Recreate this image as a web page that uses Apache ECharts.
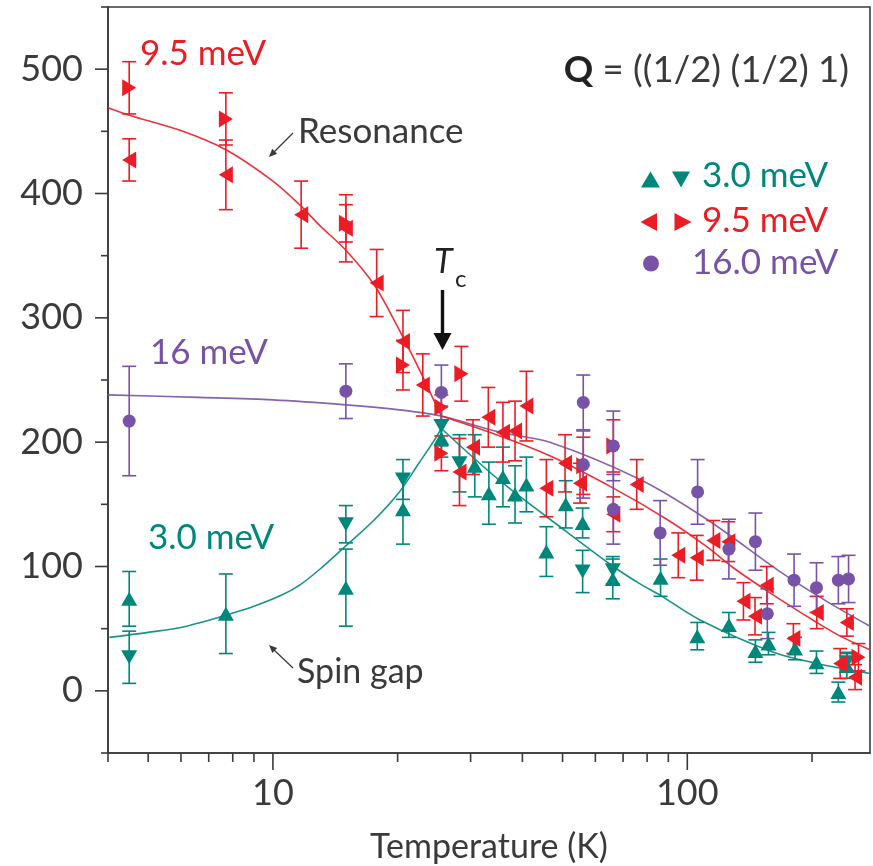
<!DOCTYPE html>
<html>
<head>
<meta charset="utf-8">
<script src="https://cdn.jsdelivr.net/npm/echarts@6/dist/echarts.min.js"></script>
<style>
  html, body { margin: 0; padding: 0; background: #fff; }
  #chart { width: 873px; height: 866px; }
</style>
</head>
<body>
<div id="chart"></div>
<script>
// Each point: [temperature (K), intensity, error]
const tealUp = [
  [4.5, 74, 22], [7.7, 62, 32], [15.0, 83, 31], [20.6, 146, 28], [25.5, 203, 15],
  [30.7, 181, 25], [33.2, 159, 25], [35.9, 172, 24], [38.4, 158, 23], [40.9, 166, 22],
  [45.7, 112, 20], [50.9, 150, 19], [55.9, 135, 12], [66.1, 90, 16], [86.2, 91, 15],
  [105.7, 44, 11], [126, 53, 10], [146, 32, 9], [157, 38, 9], [182, 34, 9],
  [205, 23, 9], [231.5, -1, 8], [242.7, 20, 10]
];
const tealDown = [
  [4.5, 27, 21], [15.0, 134, 15], [20.6, 170, 16], [25.5, 213, 16], [28.2, 183, 23],
  [55.9, 96, 17], [66.1, 97, 11], [242.7, 23, 8]
];
const redLeft = [
  [4.5, 427, 17], [7.7, 415, 28], [11.7, 383, 27], [15.0, 372, 27], [17.8, 328, 27],
  [20.6, 281, 25], [23.0, 246, 25], [28.2, 176, 27], [30.4, 196, 22], [33.1, 220, 24],
  [35.9, 208, 24], [38.4, 209, 24], [40.9, 229, 28], [45.7, 163, 23], [50.7, 183, 23],
  [55.1, 167, 16], [66.3, 142, 14], [75.5, 166, 20], [95.1, 109, 18], [105.4, 107, 18],
  [115.6, 121, 16], [125.6, 120, 16], [136.6, 72, 15], [145.7, 60, 15], [155.5, 85, 15],
  [180.3, 42, 12], [205.3, 63, 13], [233.8, 22, 12], [242.7, 55, 11], [254, 11, 10]
];
const redRight = [
  [4.5, 485, 21], [7.7, 460, 21], [15.0, 376, 15], [20.6, 262, 20], [25.5, 228, 10],
  [25.5, 191, 14], [28.5, 255, 22], [56.1, 181, 23], [66.3, 197, 21], [258.9, 27, 11]
];
const purpleDots = [
  [4.5, 217, 44], [15.0, 241, 22], [25.5, 240, 22], [56.1, 232, 22], [56.1, 182, 27],
  [66.3, 197, 28], [66.3, 146, 28], [86.0, 127, 26], [105.9, 160, 26], [126, 114, 24],
  [146, 120, 23], [156, 62, 20], [181, 89, 21], [205, 83, 20], [231.5, 89, 19], [245, 90, 19]
];

// Fitted curves, [temperature (K), intensity]
const redFitBelowTc = [
  [4.0, 469], [4.5, 463], [5.95, 451], [7.72, 435], [10, 410], [11.6, 391], [13.0, 374],
  [15.04, 354], [17.6, 326], [20.2, 290], [22.6, 258], [24.35, 235], [25.5, 221]
];
const redFitAboveTc = [
  [25.5, 221], [35.3, 205], [46.6, 189], [66.3, 163], [89.2, 138], [111.4, 116],
  [129.1, 99], [161.4, 77], [205.4, 55], [233.8, 44], [276, 33]
];
const purpleFit = [
  [4.0, 238], [6.6, 236], [10, 234], [15.0, 230], [20.2, 226], [25.5, 221], [35.3, 208],
  [46.6, 200], [76.9, 170], [111.4, 138], [170.6, 94], [217, 72], [276, 52]
];
const tealFitBelowTc = [
  [4.03, 43], [5.0, 47], [6.0, 51], [7.72, 61], [9.0, 68], [10.5, 77], [11.6, 85],
  [13.0, 98], [15.04, 117], [17.5, 137], [20.2, 160], [22.5, 183], [24.35, 200], [25.5, 211]
];
const tealFitAboveTc = [
  [25.5, 211], [35.3, 169], [51.1, 128], [66.3, 100], [76.9, 86], [85.9, 77],
  [107.3, 57], [161.4, 31], [205.4, 22], [276, 14]
];

// Axes
const xMin = 4, xMax = 276;
const yMin = -50, yMax = 550;
const xMajorTicks = [10, 100];
const xMinorTicks = [4, 5, 6, 7, 8, 9, 20, 30, 40, 50, 60, 70, 80, 90, 200];
const yTickLabels = [0, 100, 200, 300, 400, 500];
const yTicks = [-50, 0, 50, 100, 150, 200, 250, 300, 350, 400, 450, 500, 550];

const TEAL = '#00877b', RED = '#ec1c24', PURPLE = '#7852a6', INK = '#3a3a3a';
const FONT = 'Lato';

function errorBars(name, data, color) {
  return {
    type: 'custom', name, data, silent: true, clip: false, z: 3,
    encode: { x: 0, y: 1 },
    renderItem: (params, api) => {
      const t = api.value(0), v = api.value(1), e = api.value(2);
      const top = api.coord([t, v + e]);
      const bot = api.coord([t, v - e]);
      const cap = 7;
      const style = { stroke: color, lineWidth: 1.6 };
      return {
        type: 'group',
        children: [
          { type: 'line', shape: { x1: top[0], y1: top[1], x2: bot[0], y2: bot[1] }, style },
          { type: 'line', shape: { x1: top[0] - cap, y1: top[1], x2: top[0] + cap, y2: top[1] }, style },
          { type: 'line', shape: { x1: bot[0] - cap, y1: bot[1], x2: bot[0] + cap, y2: bot[1] }, style }
        ]
      };
    }
  };
}

function markers(name, data, color, symbol, rotate, size) {
  return {
    type: 'scatter', name, data: data.map(d => [d[0], d[1]]), symbol, symbolRotate: rotate,
    symbolSize: size, itemStyle: { color, opacity: 1 }, z: 4, silent: true
  };
}

function fit(name, data, color) {
  return {
    type: 'line', name, data, smooth: 0.3, showSymbol: false, silent: true, z: 2,
    lineStyle: { color, width: 1.6, opacity: 0.9 }
  };
}

// Axis tick marks: minor and major lengths differ
const tickSeriesX = {
  type: 'custom', silent: true, clip: false, z: 5,
  data: xMinorTicks.map(t => [t, 9]).concat(xMajorTicks.map(t => [t, 17])),
  encode: { x: 0 },
  renderItem: (params, api) => {
    const p = api.coord([api.value(0), yMin]);
    return { type: 'line', shape: { x1: p[0], y1: p[1], x2: p[0], y2: p[1] + api.value(1) },
             style: { stroke: INK, lineWidth: 1.6 } };
  }
};
const tickSeriesY = {
  type: 'custom', silent: true, clip: false, z: 5,
  data: yTicks.map(v => [xMin, v, yTickLabels.includes(v) ? 13 : 7]),
  encode: { x: 0, y: 1 },
  renderItem: (params, api) => {
    const p = api.coord([xMin, api.value(1)]);
    return { type: 'line', shape: { x1: p[0] - api.value(2), y1: p[1], x2: p[0], y2: p[1] },
             style: { stroke: INK, lineWidth: 1.6 } };
  }
};

function arrowHead(tip, from, len, half, color) {
  const dx = tip[0] - from[0], dy = tip[1] - from[1];
  const d = Math.hypot(dx, dy), ux = dx / d, uy = dy / d;
  const bx = tip[0] - ux * len, by = tip[1] - uy * len;
  return { type: 'polygon', shape: { points: [tip, [bx - uy * half, by + ux * half], [bx + uy * half, by - ux * half]] },
           style: { fill: color } };
}
function txt(x, y, text, color, size, extra) {
  return { type: 'text', x, y, style: Object.assign({ text, fill: color, font: `${size}px ${FONT}`,
           verticalAlign: 'middle', align: 'left' }, extra || {}) };
}

const graphics = [
  txt(140, 54, '9.5 meV', RED, 35),
  txt(298, 132, 'Resonance', INK, 35),
  { type: 'line', shape: { x1: 293, y1: 133, x2: 273, y2: 153 }, style: { stroke: INK, lineWidth: 1.3 } },
  arrowHead([269, 157], [293, 133], 8, 3.5, INK),
  txt(150, 353, '16 meV', PURPLE, 35),
  txt(148, 538, '3.0 meV', TEAL, 35),
  txt(297, 672, 'Spin gap', INK, 34),
  { type: 'line', shape: { x1: 293, y1: 668, x2: 273, y2: 649 }, style: { stroke: INK, lineWidth: 1.3 } },
  arrowHead([269, 645], [293, 668], 8, 3.5, INK),
  { type: 'text', x: 849, y: 70, style: { text: '{b|Q} = ((1/2) (1/2) 1)', fill: INK, font: `36.5px ${FONT}`,
    align: 'right', verticalAlign: 'middle', rich: { b: { fontWeight: 'bold', fontSize: 36.5, fontFamily: FONT, fill: '#222' } } } },
  txt(434, 262, 'T', '#222', 34, { font: `italic 34px ${FONT}` }),
  txt(455, 279, 'c', '#222', 24),
  { type: 'line', shape: { x1: 442.5, y1: 290, x2: 442.5, y2: 336 }, style: { stroke: '#111', lineWidth: 3.4 } },
  { type: 'polygon', shape: { points: [[433.5, 333], [451.5, 333], [442.5, 350]] }, style: { fill: '#111' } },
  // key
  { type: 'polygon', shape: { points: [[650.5, 171.5], [660, 187.5], [641, 187.5]] }, style: { fill: TEAL } },
  { type: 'polygon', shape: { points: [[672, 171.5], [690, 171.5], [681, 187.5]] }, style: { fill: TEAL } },
  txt(702, 176, '3.0 meV', TEAL, 35),
  { type: 'polygon', shape: { points: [[640.5, 222], [657, 213], [657, 231]] }, style: { fill: RED } },
  { type: 'polygon', shape: { points: [[674.5, 213], [691.5, 222], [674.5, 231]] }, style: { fill: RED } },
  txt(702, 221, '9.5 meV', RED, 35),
  { type: 'circle', shape: { cx: 651, cy: 263.5, r: 8 }, style: { fill: PURPLE } },
  txt(692, 263, '16.0 meV', PURPLE, 35)
];

const chart = echarts.init(document.getElementById('chart'), null, { renderer: 'canvas' });
chart.setOption({
  animation: false,
  backgroundColor: '#fff',
  grid: { left: 108, top: 7, width: 762, height: 746, show: true, borderColor: INK, borderWidth: 1.6,
          containLabel: false, outerBoundsMode: 'none' },
  xAxis: {
    type: 'log', logBase: 10, min: xMin, max: xMax,
    axisLine: { show: true, onZero: false, lineStyle: { color: INK, width: 1.6 } },
    axisTick: { show: false }, splitLine: { show: false }, minorTick: { show: false },
    axisLabel: {
      show: true, margin: 22, color: INK, fontSize: 36, fontFamily: FONT,
      showMinLabel: false, showMaxLabel: false,
      formatter: v => { const r = Math.round(v); return (xMajorTicks.includes(r) && Math.abs(v - r) < 1e-6) ? String(r) : ''; }
    },
    name: 'Temperature (K)', nameLocation: 'middle', nameGap: 77,
    nameTextStyle: { color: INK, fontSize: 34, fontFamily: FONT }
  },
  yAxis: {
    type: 'value', min: yMin, max: yMax, interval: 50,
    axisLine: { show: true, onZero: false, lineStyle: { color: INK, width: 1.6 } },
    axisTick: { show: false }, splitLine: { show: false },
    axisLabel: {
      margin: 25, color: INK, fontSize: 36, fontFamily: FONT, padding: [6, 0, 0, 0],
      formatter: v => yTickLabels.includes(v) ? String(v) : ''
    }
  },
  graphic: { elements: graphics },
  series: [
    fit('fit-purple', purpleFit, PURPLE),
    fit('fit-red-low', redFitBelowTc, RED),
    fit('fit-red-high', redFitAboveTc, RED),
    fit('fit-teal-low', tealFitBelowTc, TEAL),
    fit('fit-teal-high', tealFitAboveTc, TEAL),
    errorBars('err-teal-up', tealUp, TEAL),
    errorBars('err-teal-down', tealDown, TEAL),
    errorBars('err-red-left', redLeft, RED),
    errorBars('err-red-right', redRight, RED),
    errorBars('err-purple', purpleDots, PURPLE),
    markers('3.0 meV up', tealUp, TEAL, 'triangle', 0, [16, 14]),
    markers('3.0 meV down', tealDown, TEAL, 'triangle', 180, [16, 14]),
    markers('9.5 meV left', redLeft, RED, 'triangle', 90, [17, 14]),
    markers('9.5 meV right', redRight, RED, 'triangle', -90, [17, 14]),
    markers('16.0 meV', purpleDots, PURPLE, 'circle', 0, 13),
    tickSeriesX,
    tickSeriesY
  ]
});
</script>
</body>
</html>
